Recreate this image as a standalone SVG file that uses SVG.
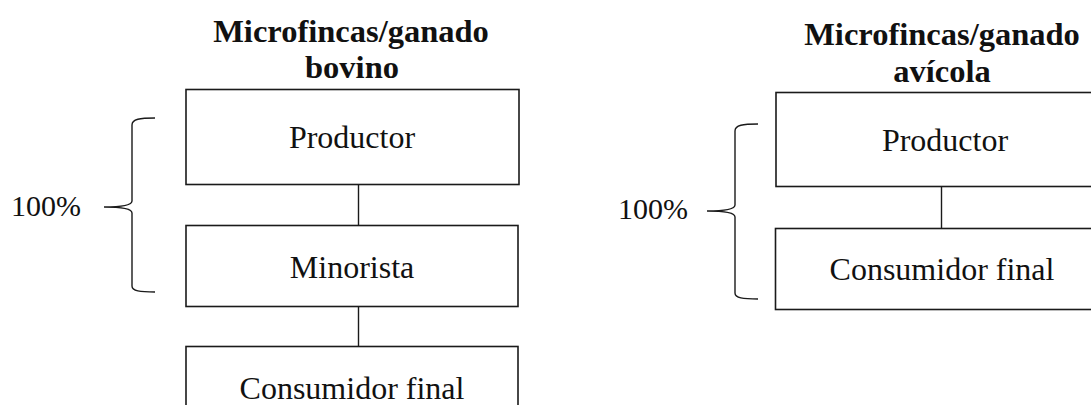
<svg xmlns="http://www.w3.org/2000/svg" width="1091" height="405" viewBox="0 0 1091 405">
<style>
.box{fill:#fff;stroke:#1a1a1a;stroke-width:1.6}
.ln{fill:none;stroke:#1a1a1a;stroke-width:1.4}
.t{font-family:"Liberation Serif","Times New Roman",serif;font-size:32px;fill:#111;text-anchor:middle}
.h{font-family:"Liberation Serif","Times New Roman",serif;font-size:32.5px;font-weight:bold;fill:#111;text-anchor:middle}
.p{font-family:"Liberation Serif","Times New Roman",serif;font-size:30px;fill:#111}
</style>
<rect width="1091" height="405" fill="#fff"/>
<g id="connectors">
<line class="ln" x1="358.5" y1="185" x2="358.5" y2="225"/>
<line class="ln" x1="358.5" y1="307" x2="358.5" y2="346"/>
<line class="ln" x1="941.5" y1="187" x2="941.5" y2="228"/>
<path id="brace-left" class="ln" d="M155,118 C140,118 132,119 132,125 L132,201 C132,205 124,207 104,207 C124,207 132,209 132,213 L132,286 C132,291 140,292 155,292"/>
<path id="brace-right" class="ln" d="M758,124 C743,124 735,125 735,131 L735,205 C735,209 727,211 707,211 C727,211 735,213 735,217 L735,293 C735,298 743,299 758,299"/>
</g>
<g id="title-left"><text class="h" x="351" y="42">Microfincas/ganado</text><text class="h" x="352" y="78">bovino</text></g>
<g id="title-right"><text class="h" x="942" y="45">Microfincas/ganado</text><text class="h" x="942" y="82">avícola</text></g>
<g id="label-left"><text class="p" x="11" y="216">100%</text></g>
<g id="label-right"><text class="p" x="618" y="219">100%</text></g>
<g id="node-l-productor"><rect class="box" x="186" y="89.5" width="333" height="95"/><text class="t" x="352" y="148">Productor</text></g>
<g id="node-l-minorista"><rect class="box" x="186" y="225.5" width="332" height="81"/><text class="t" x="352" y="278">Minorista</text></g>
<g id="node-l-consumidor"><rect class="box" x="186" y="346.5" width="332" height="70"/><text class="t" x="352" y="399">Consumidor final</text></g>
<g id="node-r-productor"><rect class="box" x="776" y="92.5" width="330" height="94"/><text class="t" x="945" y="151">Productor</text></g>
<g id="node-r-consumidor"><rect class="box" x="775.5" y="228.5" width="330" height="81"/><text class="t" x="942" y="280">Consumidor final</text></g>
</svg>
